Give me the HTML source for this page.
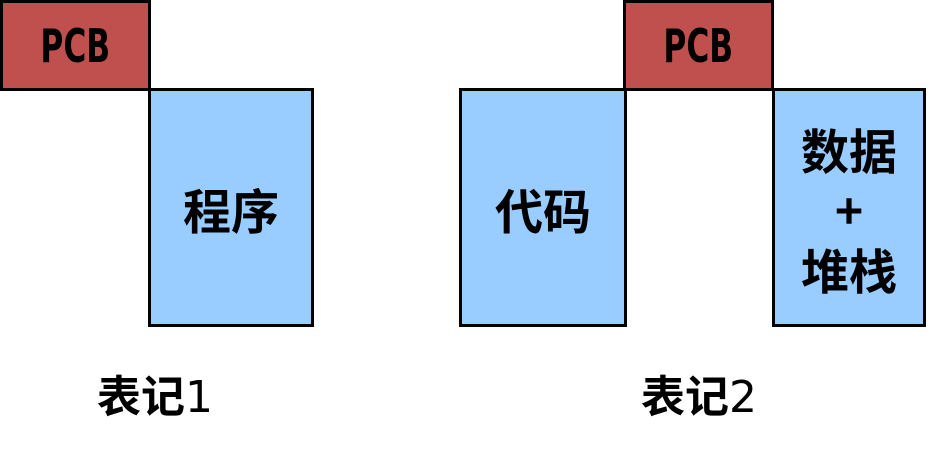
<!DOCTYPE html>
<html><head><meta charset="utf-8"><style>
body{margin:0;width:929px;height:454px;background:#fff;position:relative;overflow:hidden;font-family:"Liberation Sans","Noto Sans CJK SC",sans-serif;}
.b{position:absolute;box-sizing:border-box;border:3px solid #000;display:flex;align-items:center;justify-content:center;text-align:center;color:#000;}
.r{background:#C0504D;}
.u{background:#99CCFF;}
.pcb{font-family:"DejaVu Sans","Liberation Sans",sans-serif;font-weight:bold;font-size:46px;transform:scaleX(0.68);display:inline-block;}
.cj{font-family:"Noto Sans CJK SC",sans-serif;font-weight:bold;font-size:48px;line-height:60px;}
.t{position:absolute;font-family:"DejaVu Sans","Noto Sans CJK SC",sans-serif;font-weight:bold;font-size:44px;line-height:50px;}
</style></head><body>
<div class="b r" style="left:0;top:0;width:151px;height:91px"><span class="pcb">PCB</span></div>
<div class="b u" style="left:148px;top:88px;width:166px;height:239px"><span class="cj">程序</span></div>
<div class="b u" style="left:459px;top:88px;width:168px;height:239px"><span class="cj">代码</span></div>
<div class="b r" style="left:623px;top:0;width:151px;height:91px"><span class="pcb">PCB</span></div>
<div class="b u" style="left:772px;top:88px;width:154px;height:239px"><span class="cj">数据<br>+<br>堆栈</span></div>
<div class="t" style="left:97px;top:373px">表记<span style="font-weight:normal">1</span></div>
<div class="t" style="left:641px;top:373px">表记<span style="font-weight:normal">2</span></div>
</body></html>
